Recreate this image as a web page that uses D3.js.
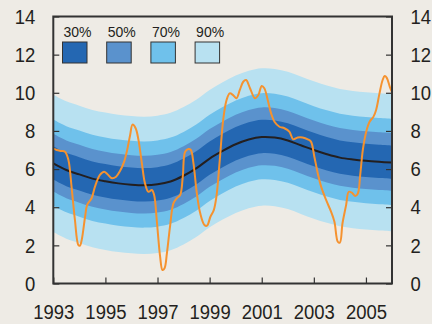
<!DOCTYPE html>
<html>
<head>
<meta charset="utf-8">
<script src="https://cdn.jsdelivr.net/npm/d3@7"></script>
<style>
  html, body { margin: 0; padding: 0; background: #eeebe5; }
  svg { display: block; }
  .tick text { font-family: "Liberation Sans", Arial, sans-serif; font-size: 21px; fill: #231f20; }
</style>
</head>
<body>
<svg id="chart" width="432" height="324"></svg>
<script>
// Central projection (years and values)
const centerYears = [1993, 1993.5, 1994, 1994.5, 1995, 1995.5, 1996, 1996.5, 1997, 1997.5,
  1998, 1998.5, 1999, 1999.5, 2000, 2000.5, 2001, 2001.5, 2002, 2002.5, 2003, 2003.5,
  2004, 2004.5, 2005, 2005.5, 2006];
const centerValues = [6.30, 5.95, 5.72, 5.50, 5.36, 5.25, 5.18, 5.15, 5.20, 5.35,
  5.65, 6.05, 6.55, 6.95, 7.30, 7.55, 7.68, 7.65, 7.50, 7.25, 7.00, 6.78,
  6.60, 6.50, 6.43, 6.38, 6.34];

// Probability bands: distance above / below the central projection
const bandLabels = ["30%", "50%", "70%", "90%"];
const bandUpper = [0.90, 1.55, 2.30, 3.60];
const bandLower = [0.85, 1.48, 2.22, 3.60];
const bandColors = ["#2467b2", "#5a92cd", "#6fc1eb", "#b8e1f1"];

// Outturn series
const outturnYears = [1993.00, 1993.13, 1993.30, 1993.45, 1993.58, 1993.70, 1993.83, 1993.96, 1994.02, 1994.09,
  1994.22, 1994.30, 1994.47, 1994.60, 1994.79, 1994.95, 1995.08, 1995.25, 1995.41, 1995.57,
  1995.72, 1995.82, 1995.95, 1996.04, 1996.16, 1996.27, 1996.40, 1996.52, 1996.65, 1996.78,
  1996.87, 1996.97, 1997.10, 1997.19, 1997.27, 1997.36, 1997.48, 1997.61, 1997.74, 1997.87,
  1997.97, 1998.06, 1998.19, 1998.28, 1998.38, 1998.51, 1998.64, 1998.80, 1998.90, 1999.03,
  1999.16, 1999.26, 1999.39, 1999.52, 1999.65, 1999.77, 1999.90, 2000.03, 2000.16, 2000.29,
  2000.40, 2000.55, 2000.74, 2000.87, 2001.00, 2001.10, 2001.23, 2001.36, 2001.49, 2001.68,
  2001.87, 2002.06, 2002.21, 2002.38, 2002.57, 2002.77, 2002.89, 2003.02, 2003.15, 2003.28,
  2003.47, 2003.66, 2003.79, 2003.92, 2004.00, 2004.10, 2004.24, 2004.34, 2004.46, 2004.59,
  2004.69, 2004.78, 2004.88, 2005.01, 2005.14, 2005.29, 2005.39, 2005.52, 2005.64, 2005.72,
  2005.80, 2005.92, 2006.00];
const outturnValues = [7.07, 7.00, 6.95, 6.91, 6.48, 5.08, 3.33, 2.02, 1.98, 2.28,
  3.50, 4.12, 4.47, 5.08, 5.69, 5.86, 5.73, 5.52, 5.60, 5.92,
  6.39, 6.91, 7.79, 8.33, 8.14, 7.52, 6.30, 5.25, 4.81, 4.90,
  4.64, 3.33, 1.41, 0.71, 0.80, 1.58, 2.98, 4.20, 4.47, 4.64,
  5.60, 6.91, 7.05, 7.00, 6.30, 4.73, 3.68, 3.07, 3.03, 3.50,
  3.85, 4.55, 6.48, 8.57, 9.62, 9.97, 9.88, 9.71, 10.15, 10.58,
  10.67, 10.24, 9.71, 9.88, 10.36, 10.24, 9.62, 8.92, 8.48, 8.22,
  8.14, 7.96, 7.56, 7.66, 7.66, 7.56, 7.44, 6.65, 5.78, 5.08,
  4.38, 3.77, 3.24, 2.19, 2.14, 3.16, 4.12, 4.81, 4.76, 4.59,
  4.72, 5.69, 7.00, 7.96, 8.48, 8.75, 9.10, 9.97, 10.67, 10.88,
  10.78, 10.30, 10.04];

// Axis ticks
const xTickYears = [1993, 1995, 1997, 1999, 2001, 2003, 2005];
const yTickValues = [0, 2, 4, 6, 8, 10, 12, 14];

const svg = d3.select("#chart");
const plot = { left: 53.3, right: 392, top: 16.5, bottom: 283.5 };

const x = d3.scaleLinear().domain([1993, 2006]).range([plot.left, plot.right]);
const y = d3.scaleLinear().domain([0, 14]).range([plot.bottom, plot.top]);

const center = centerYears.map((yr, i) => ({ yr, v: centerValues[i] }));
const outturn = outturnYears.map((yr, i) => ({ yr, v: outturnValues[i] }));

// Fan bands, widest first so narrower ones sit on top
const bandOrder = d3.range(bandLabels.length).reverse();
svg.append("g").selectAll("path")
  .data(bandOrder)
  .join("path")
  .attr("fill", i => bandColors[i])
  .attr("d", i => d3.area()
    .curve(d3.curveCatmullRom)
    .x(d => x(d.yr))
    .y0(d => y(d.v - bandLower[i]))
    .y1(d => y(d.v + bandUpper[i]))(center));

// Central projection line
svg.append("path")
  .datum(center)
  .attr("fill", "none")
  .attr("stroke", "#231f20")
  .attr("stroke-width", 2)
  .attr("d", d3.line().curve(d3.curveCatmullRom).x(d => x(d.yr)).y(d => y(d.v)));

// Outturn line
svg.append("path")
  .datum(outturn)
  .attr("fill", "none")
  .attr("stroke", "#f5922f")
  .attr("stroke-width", 2)
  .attr("stroke-linejoin", "round")
  .attr("d", d3.line().curve(d3.curveCatmullRom).x(d => x(d.yr)).y(d => y(d.v)));

// Frame
svg.append("rect")
  .attr("x", plot.left).attr("y", plot.top)
  .attr("width", plot.right - plot.left).attr("height", plot.bottom - plot.top)
  .attr("fill", "none").attr("stroke", "#333").attr("stroke-width", 2);

// Axes with inward ticks; tick labels horizontally condensed
const squeeze = 0.88;
const styleAxis = g => {
  g.select(".domain").remove();
  g.selectAll(".tick line").attr("stroke", "#333").attr("stroke-width", 1.2);
  g.selectAll(".tick text")
    .attr("x", function() { return (+this.getAttribute("x") || 0) / squeeze; })
    .attr("transform", `scale(${squeeze},1)`);
};

svg.append("g")
  .attr("transform", `translate(${plot.left},0)`)
  .call(d3.axisLeft(y).tickValues(yTickValues).tickSize(-6).tickPadding(18).tickFormat(d3.format("d")))
  .call(styleAxis);

svg.append("g")
  .attr("transform", `translate(${plot.right},0)`)
  .call(d3.axisRight(y).tickValues(yTickValues).tickSize(-6).tickPadding(18.5).tickFormat(d3.format("d")))
  .call(styleAxis);

svg.append("g")
  .attr("transform", `translate(0,${plot.bottom})`)
  .call(d3.axisBottom(x).tickValues(xTickYears).tickSize(-6).tickFormat(d3.format("d")))
  .call(styleAxis)
  .call(g => g.selectAll(".tick text").attr("y", 35.8).attr("dy", 0));

// Legend
const legend = svg.append("g")
  .selectAll("g")
  .data(bandLabels)
  .join("g")
  .attr("transform", (d, i) => `translate(${62.5 + i * 44.2},0)`);

legend.append("rect")
  .attr("x", 0).attr("y", 42)
  .attr("width", 24.5).attr("height", 21)
  .attr("fill", (d, i) => bandColors[i])
  .attr("stroke", "#333").attr("stroke-width", 1);

legend.append("text")
  .attr("x", 1).attr("y", 36.5)
  .attr("font-family", "'Liberation Sans', Arial, sans-serif")
  .attr("font-size", 14)
  .attr("fill", "#231f20")
  .text(d => d);
</script>
</body>
</html>
